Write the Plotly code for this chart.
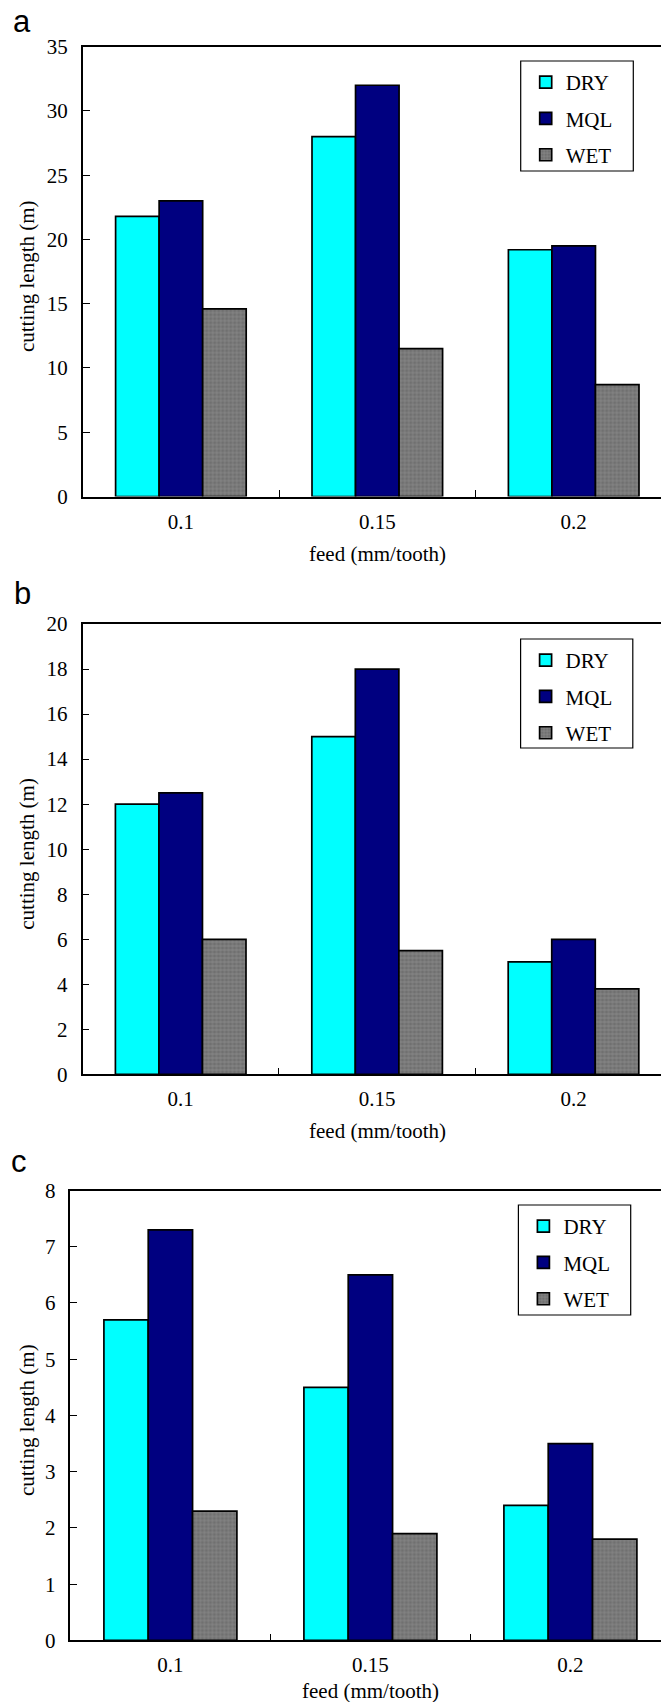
import plotly.graph_objects as go

# The page body has an 8px default margin, so the figure is drawn from (8, 8)
PAGE_W, PAGE_H = 669, 1702
OFF = 8
W, H = PAGE_W - OFF, PAGE_H - OFF

feeds = ["0.1", "0.15", "0.2"]
series_names = ["DRY", "MQL", "WET"]

a_dry = [21.8, 28.0, 19.2]
a_mql = [23.0, 32.0, 19.5]
a_wet = [14.6, 11.5, 8.7]

b_dry = [12.0, 15.0, 5.0]
b_mql = [12.5, 18.0, 6.0]
b_wet = [6.0, 5.5, 3.8]

c_dry = [5.7, 4.5, 2.4]
c_mql = [7.3, 6.5, 3.5]
c_wet = [2.3, 1.9, 1.8]

y_max = [35, 20, 8]
y_dtick = [5, 2, 1]
panel_letters = ["a", "b", "c"]

SERIF = "Liberation Serif"
SANS = "Liberation Sans"

# page-pixel geometry of the panels
panels_px = [
    dict(left=82.7, top=46.7, bottom=496.5, cat_w=196.4, letter=(22, 21),
         legend=(520.7, 61, 633.3, 171), xtitle_gap=57),
    dict(left=82.5, top=624.0, bottom=1074.4, cat_w=196.4, letter=(22, 593),
         legend=(520.6, 639, 632.8, 748), xtitle_gap=57),
    dict(left=70.4, top=1190.5, bottom=1640.4, cat_w=200.0, letter=(19, 1161),
         legend=(518.4, 1205, 630.7, 1315), xtitle_gap=51),
]

colors = {"DRY": "#00FFFF", "MQL": "#000080", "WET": "#7A7A7A"}

data = [
    (a_dry, a_mql, a_wet),
    (b_dry, b_mql, b_wet),
    (c_dry, c_mql, c_wet),
]

def px_x(v):
    return (v - OFF) / W

def px_y(v):
    return 1 - (v - OFF) / H

fig = go.Figure()
annotations = []
shapes = []
layout = {}

for i, (vals, geo) in enumerate(zip(data, panels_px)):
    n = "" if i == 0 else str(i + 1)
    xa = "x" + n
    ya = "y" + n
    leg = "legend" + n
    for name, v in zip(series_names, vals):
        marker = dict(color=colors[name], line=dict(color="black", width=1.7))
        if name == "WET":
            marker["pattern"] = dict(shape="+", fgcolor="#959595", bgcolor="#707070",
                                     size=4, solidity=0.25, fillmode="replace")
        fig.add_trace(go.Bar(
            x=feeds, y=v, name=name, marker=marker,
            xaxis=xa, yaxis=ya, legend=leg, legendgroup=name + n,
            hoverinfo="skip",
        ))
    right_cat = -0.5 + (PAGE_W - geo["left"]) / geo["cat_w"]
    layout["xaxis" + n] = dict(
        domain=[px_x(geo["left"]), 1.0],
        anchor=ya, type="category",
        categoryorder="array", categoryarray=feeds,
        range=[-0.5, right_cat],
        showline=True, linecolor="black", linewidth=1.6, mirror=True,
        ticks="inside", tickson="boundaries", ticklen=7, tickwidth=1, tickcolor="black",
        showgrid=False, zeroline=False,
        tickfont=dict(family=SERIF, size=21, color="black"),
        ticklabelstandoff=5,
        automargin=False,
        fixedrange=True,
    )
    layout["yaxis" + n] = dict(
        domain=[px_y(geo["bottom"]), px_y(geo["top"])],
        anchor=xa, range=[0, y_max[i]], dtick=y_dtick[i], tick0=0,
        showline=True, linecolor="black", linewidth=1.6,
        ticks="inside", ticklen=7, tickwidth=1, tickcolor="black",
        showgrid=False, zeroline=False,
        tickfont=dict(family=SERIF, size=21, color="black"),
        ticklabelstandoff=9,
        automargin=False,
        fixedrange=True,
    )
    # legend box
    lx0, ly0, lx1, ly1 = geo["legend"]
    shapes.append(dict(type="rect", xref="paper", yref="paper",
                       x0=px_x(lx0), x1=px_x(lx1), y0=px_y(ly1), y1=px_y(ly0),
                       line=dict(color="black", width=1.2), fillcolor="white", layer="below"))
    layout[leg] = dict(
        x=px_x(lx0 + 5), y=px_y(ly0 + 1), xanchor="left", yanchor="top",
        bgcolor="rgba(0,0,0,0)", borderwidth=0,
        font=dict(family=SERIF, size=21, color="black"),
        traceorder="grouped", tracegroupgap=6,
    )
    # axis titles
    annotations.append(dict(
        text="feed (mm/tooth)", xref=xa, x=1, yref="paper",
        y=px_y(geo["bottom"] + geo["xtitle_gap"]), showarrow=False,
        xanchor="center", yanchor="middle",
        font=dict(family=SERIF, size=21, color="black"),
    ))
    annotations.append(dict(
        text="cutting length (m)", xref="paper", x=px_x(27), yref=ya + " domain",
        y=0.49, showarrow=False, textangle=-90, xanchor="center", yanchor="middle",
        font=dict(family=SERIF, size=21, color="black"),
    ))
    lx, ly = geo["letter"]
    annotations.append(dict(
        text=panel_letters[i], xref="paper", x=px_x(lx), yref="paper", y=px_y(ly),
        showarrow=False, xanchor="center", yanchor="middle",
        font=dict(family=SANS, size=31, color="black"),
    ))

fig.update_layout(
    width=W, height=H,
    margin=dict(l=0, r=0, t=0, b=0, autoexpand=False),
    paper_bgcolor="white", plot_bgcolor="white",
    barmode="group", bargap=0.335, bargroupgap=0,
    annotations=annotations, shapes=shapes,
    hovermode=False,
    **layout,
)

fig.write_html("out.html")
